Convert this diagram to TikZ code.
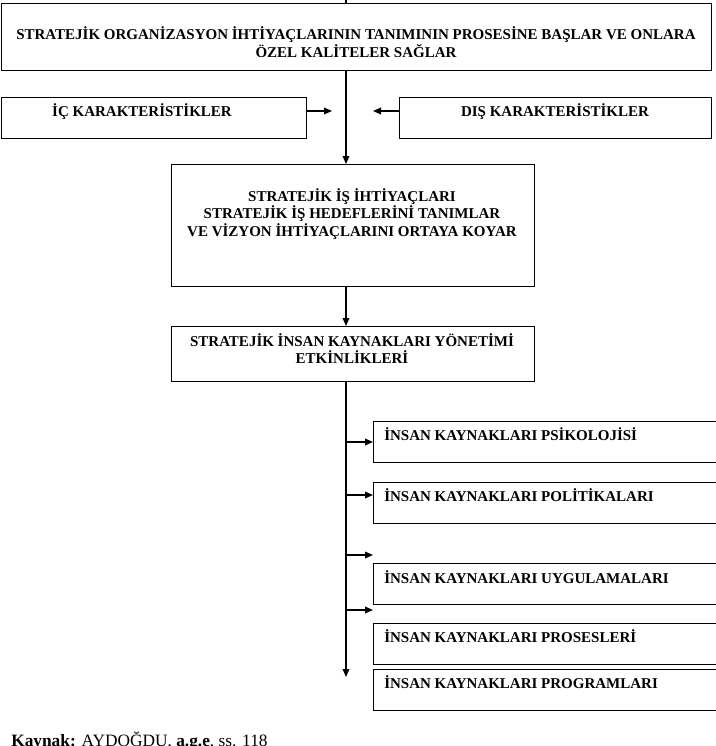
\documentclass[tikz,border=0pt]{standalone}
\usepackage{fontspec}
\setmainfont{Liberation Serif}
\usepackage{tikz}
\usetikzlibrary{arrows.meta,calc}

\begin{document}
\begin{tikzpicture}[x=0.75pt,y=0.75pt,yscale=-1,xscale=1,
    kutu/.style={draw, line width=0.9pt, rectangle, inner sep=0pt, anchor=north west},
    yazi/.style={font=\fontsize{11.25}{13.1}\selectfont\bfseries, inner sep=0pt, align=center, anchor=base},
    solyazi/.style={font=\fontsize{11.25}{13.1}\selectfont\bfseries, inner sep=0pt, anchor=base west},
    ok/.style={line width=0.9pt, -{Triangle[length=6pt,width=5pt]}},
    cizgi/.style={line width=0.9pt}]
        %set diagram left start at 0, and has height of 746
        \useasboundingbox (0,0) rectangle (716,746);
        \clip (0,0) rectangle (716,746);
        %Shape: Rectangle [org]
        \node [kutu, minimum width=532.5pt, minimum height=50.25pt] (org) at (1,3) {};
        % Text Node (base = last line)
        \node [yazi] (orgyazi) at (356,57) {STRATEJİK ORGANİZASYON İHTİYAÇLARININ TANIMININ PROSESİNE BAŞLAR VE ONLARA\\ÖZEL KALİTELER SAĞLAR};
        %Shape: Rectangle [ic]
        \node [kutu, minimum width=228.75pt, minimum height=30.75pt] (ic) at (1,97) {};
        % Text Node
        \node [yazi] (icyazi) at (142,116.5) {İÇ KARAKTERİSTİKLER};
        %Shape: Rectangle [dis]
        \node [kutu, minimum width=234pt, minimum height=30.75pt] (dis) at (399,97) {};
        % Text Node
        \node [yazi] (disyazi) at (555,116.5) {DIŞ KARAKTERİSTİKLER};
        %Shape: Rectangle [strateji]
        \node [kutu, minimum width=272.25pt, minimum height=91.5pt] (strateji) at (171,164) {};
        % Text Node
        \node [yazi] (stratejiyazi) at (352,236) {STRATEJİK İŞ İHTİYAÇLARI\\STRATEJİK İŞ HEDEFLERİNİ TANIMLAR\\VE VİZYON İHTİYAÇLARINI ORTAYA KOYAR};
        %Shape: Rectangle [siky]
        \node [kutu, minimum width=272.25pt, minimum height=41.25pt] (siky) at (171,326) {};
        % Text Node
        \node [yazi] (sikyyazi) at (352,363.5) {STRATEJİK İNSAN KAYNAKLARI YÖNETİMİ\\ETKİNLİKLERİ};
        %Shape: Rectangles [p1..p5]
        \node [kutu, minimum width=270pt, minimum height=30.75pt] (p1) at (373,421) {};
        \node [kutu, minimum width=270pt, minimum height=30.75pt] (p2) at (373,482) {};
        \node [kutu, minimum width=270pt, minimum height=30.75pt] (p3) at (373,563) {};
        \node [kutu, minimum width=270pt, minimum height=30.75pt] (p4) at (373,623) {};
        \node [kutu, minimum width=270pt, minimum height=30.75pt] (p5) at (373,669) {};
        % Text Nodes
        \node [solyazi] (p1yazi) at (384,440.5) {İNSAN KAYNAKLARI PSİKOLOJİSİ};
        \node [solyazi] (p2yazi) at (384,501.5) {İNSAN KAYNAKLARI POLİTİKALARI};
        \node [solyazi] (p3yazi) at (384,583.5) {İNSAN KAYNAKLARI UYGULAMALARI};
        \node [solyazi] (p4yazi) at (384,642.5) {İNSAN KAYNAKLARI PROSESLERİ};
        \node [solyazi] (p5yazi) at (384,688.5) {İNSAN KAYNAKLARI PROGRAMLARI};
        %Straight Lines [omurga]
        \coordinate (omurga) at (346,0);
        \draw [cizgi] (omurga) -- (omurga |- org.north);
        \draw [ok] (omurga |- org.south) -- (omurga |- strateji.north);
        \coordinate (icuc) at (332,111);
        \draw [ok] (icuc -| ic.east) -- (icuc);
        \coordinate (disuc) at (373,111);
        \draw [ok] (disuc -| dis.west) -- (disuc);
        \draw [ok] (omurga |- strateji.south) -- (omurga |- siky.north);
        \coordinate (alt) at (346,677);
        \draw [ok] (omurga |- siky.south) -- (alt);
        \foreach \i/\y in {1/442,2/495,3/555,4/610}{
            \coordinate (dal\i) at (373,\y);
            \draw [ok] (dal\i -| omurga) -- (dal\i);
        }
        % Text Node
        \node [anchor=base west, inner sep=0pt, font=\fontsize{13}{15}\selectfont] (kaynak) at (11,746) {\textbf{Kaynak:} AYDOĞDU, \textbf{a.g.e}, ss. 118};
\end{tikzpicture}
\end{document}
